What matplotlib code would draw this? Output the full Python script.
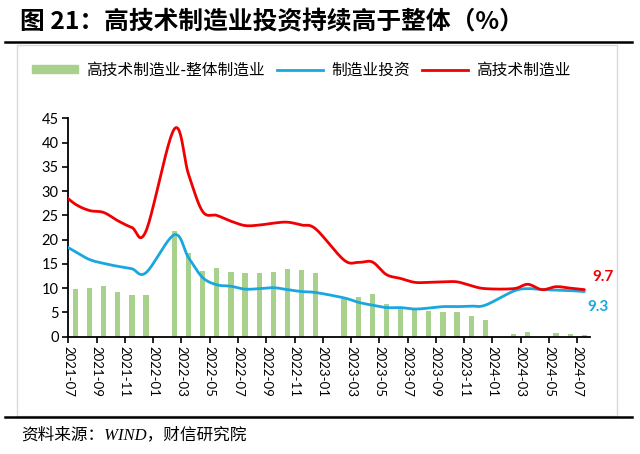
import numpy as np
import matplotlib
matplotlib.use("Agg")
import matplotlib.pyplot as plt
from matplotlib.patches import Patch, Rectangle
from matplotlib.lines import Line2D

plt.rcParams['font.family'] = ['Lato', 'Noto Sans CJK SC', 'DejaVu Sans']

# ---- data ----
months = ["2021-06", "2021-07", "2021-08", "2021-09", "2021-10", "2021-11", "2021-12",
          "2022-01", "2022-02", "2022-03", "2022-04", "2022-05", "2022-06", "2022-07",
          "2022-08", "2022-09", "2022-10", "2022-11", "2022-12",
          "2023-01", "2023-02", "2023-03", "2023-04", "2023-05", "2023-06", "2023-07",
          "2023-08", "2023-09", "2023-10", "2023-11", "2023-12",
          "2024-01", "2024-02", "2024-03", "2024-04", "2024-05", "2024-06", "2024-07"]
nan = np.nan
hightech = [29.7, 27.3, 26.0, 25.6, 23.9, 22.5, 21.8,
            nan, 42.8, 33.5, 25.8, 25.0, 23.8, 22.9,
            23.0, 23.4, 23.6, 23.0, 22.2,
            nan, 15.8, 15.3, 15.4, 12.8, 12.0, 11.2,
            11.2, 11.3, 11.3, 10.5, 9.9,
            nan, 9.9, 10.8, 9.7, 10.3, 10.0, 9.7]
manuf = [19.2, 17.5, 15.9, 15.1, 14.5, 14.0, 13.2,
         nan, 21.0, 16.3, 12.2, 10.7, 10.4, 9.8,
         9.9, 10.1, 9.7, 9.3, 9.1,
         nan, 8.0, 7.1, 6.5, 6.0, 6.0, 5.7,
         5.9, 6.2, 6.2, 6.3, 6.5,
         nan, 9.4, 9.9, 9.7, 9.6, 9.5, 9.3]
gap = [nan, 9.8, 10.0, 10.5, 9.3, 8.5, 8.6,
       nan, 21.8, 17.2, 13.6, 14.2, 13.4, 13.1,
       13.1, 13.3, 13.9, 13.7, 13.1,
       nan, 7.8, 8.2, 8.9, 6.8, 6.0, 5.5,
       5.3, 5.1, 5.1, 4.2, 3.4,
       nan, 0.5, 0.9, 0.0, 0.7, 0.5, 0.4]
tick_labels = months[1::2]

legend_labels = ["高技术制造业-整体制造业", "制造业投资", "高技术制造业"]
c_bar = "#A9D18E"
c_blue = "#1AA7E0"
c_red = "#F00000"

x = np.arange(len(months)) - 1  # 2021-06 sits at -1 (clipped), 2021-07 at 0


def smooth(xs, ys, n=24):
    xs = np.asarray(xs, float)
    ys = np.asarray(ys, float)
    m = ~np.isnan(ys)
    pts = np.column_stack([xs[m], ys[m]])
    P = np.vstack([pts[0], pts, pts[-1]])
    segs = []
    t = np.linspace(0, 1, n, endpoint=False)[:, None]
    for i in range(1, len(P) - 2):
        p0, p1, p2, p3 = P[i - 1], P[i], P[i + 1], P[i + 2]
        seg = 0.5 * (2 * p1 + (-p0 + p2) * t + (2 * p0 - 5 * p1 + 4 * p2 - p3) * t ** 2
                     + (-p0 + 3 * p1 - 3 * p2 + p3) * t ** 3)
        segs.append(seg)
    segs.append(P[-2][None])
    s = np.vstack(segs)
    return s[:, 0], s[:, 1]


fig = plt.figure(figsize=(6.4, 4.54), dpi=100)
ax = fig.add_axes([68.3 / 640, 1 - 336.7 / 454, (590 - 68.3) / 640, (336.7 - 118.3) / 454])

ax.bar(x, gap, width=0.37, color=c_bar, zorder=1)
sx, sy = smooth(x, manuf)
ax.plot(sx, sy, color=c_blue, lw=2.0, zorder=3, solid_capstyle='round')
sx, sy = smooth(x, hightech)
ax.plot(sx, sy, color=c_red, lw=2.0, zorder=4, solid_capstyle='round')

ax.set_xlim(-0.5, 36.4)
ax.set_ylim(0, 45)
ax.set_yticks(np.arange(0, 46, 5))
ax.set_xticks(np.arange(0, 37, 2) - 0.5)
ax.set_xticklabels(tick_labels, rotation=-90, fontsize=9.5)
ax.tick_params(axis='y', labelsize=10.5, length=4, width=1.2, direction='out', pad=3)
ax.tick_params(axis='x', length=4, width=1.2, direction='out', pad=3)
for s in ['top', 'right']:
    ax.spines[s].set_visible(False)
for s in ['left', 'bottom']:
    ax.spines[s].set_linewidth(1.3)
    ax.spines[s].set_color('black')

ax.text(36.6, hightech[-1] + 2.6, "9.7", color=c_red, fontsize=11, fontweight='bold',
        ha='left', va='center', clip_on=False)
ax.text(36.2, manuf[-1] - 3.1, "9.3", color=c_blue, fontsize=11, fontweight='bold',
        ha='left', va='center', clip_on=False)

handles = [Patch(color=c_bar), Line2D([], [], color=c_blue, lw=2), Line2D([], [], color=c_red, lw=2)]
fig.legend(handles, legend_labels, loc='center', bbox_to_anchor=(301.3 / 640, 1 - 70 / 454), ncol=3,
           frameon=False, handlelength=2.95, handleheight=0.46, columnspacing=0.76,
           handletextpad=0.5, borderaxespad=0, borderpad=0,
           prop={'family': ['Noto Sans CJK SC'], 'size': 11.3})

# frame box and rules
fig.add_artist(Rectangle((17.3 / 640, 1 - 416 / 454), (617 - 17.3) / 640, (416 - 45) / 454,
                         transform=fig.transFigure, fill=False, edgecolor='#D9D9D9', lw=1))
fig.add_artist(Line2D([5 / 640, 632 / 640], [1 - 42.3 / 454] * 2, transform=fig.transFigure,
                      color='black', lw=1.8))
fig.add_artist(Line2D([5 / 640, 632 / 640], [1 - 417.3 / 454] * 2, transform=fig.transFigure,
                      color='black', lw=1.8))

fig.text(20 / 640, 1 - 22 / 454, "图 21：高技术制造业投资持续高于整体（%）", fontsize=17.8,
         fontweight='bold', family=['Noto Sans CJK SC'], ha='left', va='center')
fig.text(21.7 / 640, 1 - 435 / 454, "资料来源：WIND，财信研究院", fontsize=12, style='italic',
         family=['Liberation Serif', 'Noto Sans CJK SC'], ha='left', va='center')

fig.savefig("out.png", dpi=100)
